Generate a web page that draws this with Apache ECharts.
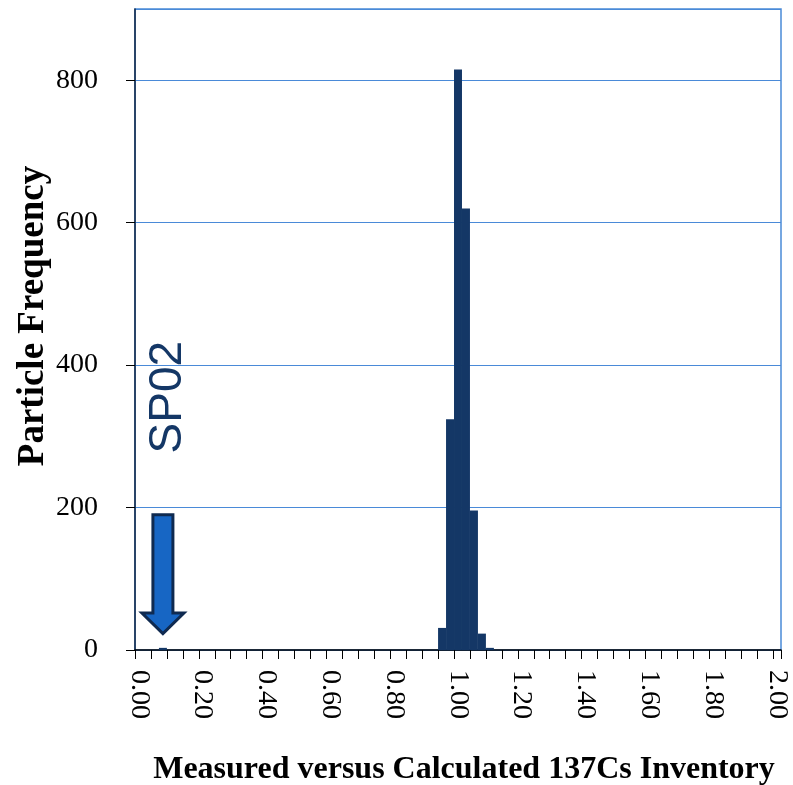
<!DOCTYPE html>
<html>
<head>
<meta charset="utf-8">
<script src="https://cdn.jsdelivr.net/npm/echarts@6/dist/echarts.min.js"></script>
<style>
  html, body { margin: 0; padding: 0; background: #ffffff; }
  #chart { width: 793px; height: 785px; }
</style>
</head>
<body>
<div id="chart"></div>
<script>
// Histogram bins: ratio of measured to calculated 137Cs inventory, bin width 0.025
const binCount = 81;
const binLabels = Array.from({ length: binCount }, (_, i) => (i * 0.025).toFixed(3));

// Non-empty bins and their particle counts
const countBins = ['0.075', '0.950', '0.975', '1.000', '1.025', '1.050', '1.075', '1.100'];
const counts    = [3, 31, 324, 815, 620, 196, 23, 3];

// Axis ticks
const xTickLabels = ['0.00', '0.20', '0.40', '0.60', '0.80', '1.00', '1.20', '1.40', '1.60', '1.80', '2.00'];
const yTicks = [0, 200, 400, 600, 800];
const yMax = 900;

// Callout pointing at the outlier particle SP02
const calloutBin = '0.075';
const calloutText = 'SP02';
const arrowTop = 190;
const arrowHeadBase = 52;
const arrowTip = 23;
const labelLevel = 355;

const xTitle = 'Measured versus Calculated 137Cs Inventory';
const yTitle = 'Particle Frequency';

const freq = binLabels.map(b => {
  const k = countBins.indexOf(b);
  return k >= 0 ? counts[k] : null;
});

const NAVY = '#143766';
const GRID_BLUE = '#4a8ad8';
const SERIF = "'Liberation Serif', 'Times New Roman', serif";
const SANS = "'Liberation Sans', Arial, sans-serif";

const chart = echarts.init(document.getElementById('chart'), null, { renderer: 'canvas' });

chart.setOption({
  animation: false,
  backgroundColor: '#ffffff',
  grid: {
    left: 135, right: 12, top: 9, bottom: 135,
    show: true, borderColor: GRID_BLUE, borderWidth: 1.5, backgroundColor: 'transparent'
  },
  xAxis: {
    type: 'category',
    data: binLabels,
    boundaryGap: true,
    axisLine: { lineStyle: { color: '#000000', width: 1.5 } },
    axisTick: { show: true, interval: 1, length: 9, inside: false, lineStyle: { color: '#000000', width: 1 } },
    axisLabel: {
      interval: 7,
      rotate: -90,
      margin: 20,
      fontFamily: SERIF,
      fontSize: 28,
      color: '#000000',
      formatter: v => {
        const s = (+v).toFixed(2);
        return xTickLabels.indexOf(s) >= 0 ? s : '';
      }
    },
    splitLine: { show: false }
  },
  yAxis: {
    type: 'value',
    min: yTicks[0],
    max: yMax,
    interval: yTicks[1] - yTicks[0],
    axisLine: { show: true, lineStyle: { color: '#10233f', width: 1.5 } },
    axisTick: { show: true, length: 9, inside: false, lineStyle: { color: '#000000', width: 1 } },
    axisLabel: {
      showMaxLabel: false,
      margin: 37,
      fontFamily: SERIF,
      fontSize: 28,
      color: '#000000',
      formatter: v => (yTicks.indexOf(v) >= 0 ? String(v) : '')
    },
    splitLine: { show: true, lineStyle: { color: GRID_BLUE, width: 1 } }
  },
  series: [
    {
      type: 'bar',
      data: freq,
      barWidth: '100%',
      barCategoryGap: '0%',
      itemStyle: { color: NAVY },
      z: 3
    },
    {
      type: 'custom',
      data: [[binLabels.indexOf(calloutBin), arrowTop, arrowHeadBase, arrowTip, labelLevel]],
      encode: { x: 0, y: 1 },
      z: 5,
      renderItem: (params, api) => {
        const ci = api.value(0);
        const top = api.coord([ci, api.value(1)]);
        const base = api.coord([ci, api.value(2)]);
        const tip = api.coord([ci, api.value(3)]);
        const lab = api.coord([ci, api.value(4)]);
        const cx = top[0];
        const shaftHalf = 10;
        const headHalf = 21;
        return {
          type: 'group',
          children: [
            {
              type: 'polygon',
              shape: {
                points: [
                  [cx - shaftHalf, top[1]],
                  [cx + shaftHalf, top[1]],
                  [cx + shaftHalf, base[1]],
                  [cx + headHalf, base[1]],
                  [cx, tip[1]],
                  [cx - headHalf, base[1]],
                  [cx - shaftHalf, base[1]]
                ]
              },
              style: { fill: '#1766c4', stroke: '#0f2a50', lineWidth: 3, lineJoin: 'miter' }
            },
            {
              type: 'text',
              x: lab[0] + 5,
              y: lab[1],
              rotation: Math.PI / 2,
              style: {
                text: calloutText,
                fontFamily: SANS,
                fontSize: 46,
                fill: NAVY,
                align: 'center',
                verticalAlign: 'middle'
              }
            }
          ]
        };
      }
    }
  ],
  graphic: [
    {
      type: 'text',
      x: 464,
      y: 770,
      style: {
        text: xTitle,
        fontFamily: SERIF,
        fontWeight: 'bold',
        fontSize: 32,
        fill: '#000000',
        align: 'center',
        verticalAlign: 'middle'
      }
    },
    {
      type: 'text',
      x: 33,
      y: 316,
      rotation: Math.PI / 2,
      style: {
        text: yTitle,
        fontFamily: SERIF,
        fontWeight: 'bold',
        fontSize: 37,
        fill: '#000000',
        align: 'center',
        verticalAlign: 'middle'
      }
    }
  ]
});
</script>
</body>
</html>
